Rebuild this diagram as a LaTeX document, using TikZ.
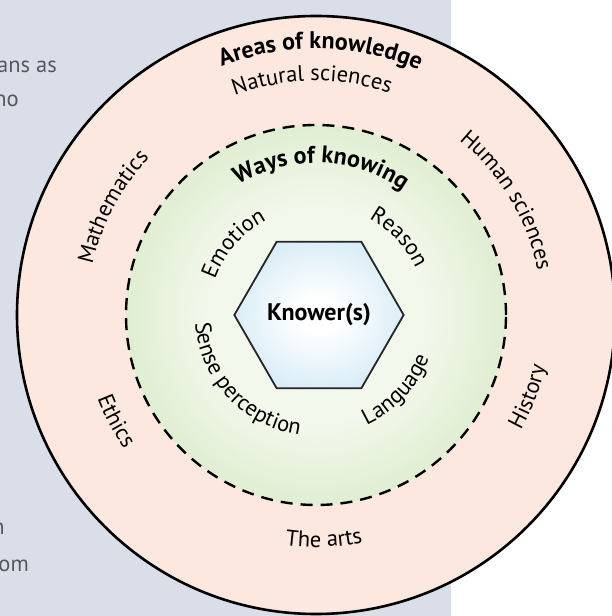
\documentclass[tikz,border=0pt]{standalone}
\usepackage{fontspec}
\setmainfont{PT Sans}
\usepackage{tikz}
\usetikzlibrary{shapes.geometric,decorations.text}
\definecolor{panel}{HTML}{D9DEE8}
\definecolor{bodygrey}{HTML}{55585E}
\definecolor{peachin}{HTML}{FCE8DF}
\definecolor{peachout}{HTML}{F8CDBA}
\definecolor{greenin}{HTML}{F3F8EC}
\definecolor{greenout}{HTML}{B4D796}
\definecolor{bluein}{HTML}{FFFFFF}
\definecolor{blueout}{HTML}{ABD6EE}
\pgfdeclareradialshading{peachring}{\pgfpoint{0bp}{0bp}}{color(0bp)=(peachin); color(31bp)=(peachin); color(50bp)=(peachout)}
\pgfdeclareradialshading{greendisc}{\pgfpoint{0bp}{0bp}}{color(0bp)=(greenin); color(14bp)=(greenin); color(50bp)=(greenout)}
\pgfdeclareradialshading{bluehex}{\pgfpoint{0bp}{0bp}}{color(0bp)=(bluein); color(6bp)=(bluein); color(50bp)=(blueout)}
\newcommand\labfont{\fontsize{22.5}{22.5}\selectfont}
\newcommand\headfont{\fontsize{24}{24}\selectfont\bfseries}

\begin{document}
\begin{tikzpicture}[x=1pt,y=1pt,
  arclab/.style={decorate,decoration={text along path,text align=center,text={#1}}},
  bodytxt/.style={font=\labfont,text=bodygrey,inner sep=0pt,anchor=base east},
  hexa/.style={regular polygon,regular polygon sides=6,minimum size=168pt,inner sep=0pt,
               draw=black!85,line width=1.8pt,shading=bluehex,font=\headfont}
]
\useasboundingbox (0,0) rectangle (611,616);
\fill[white] (0,0) rectangle (611,616);
\fill[panel] (0,0) rectangle (451,616);

% text of the page behind the figure
\node[bodytxt] (pa) at (57,543) {ans as};
\node[bodytxt] (pb) at (19,509) {no};
\node[bodytxt] (pc) at (5,81) {n};
\node[bodytxt] (pd) at (29,44) {om};

% rings
\coordinate (c) at (316,301);
\shadedraw[shading=peachring,line width=2.6pt] (c) circle[radius=299];
\shade[shading=greendisc] (c) circle[radius=190];
\draw[line width=2.4pt,dash pattern=on 12pt off 8pt] (c) circle[radius=190];
\node[hexa] (knower) at (319,301) {Knower(s)};

% areas of knowledge
\path[arclab={|\headfont|Areas of knowledge}] ([shift={(159:266)}]c) arc[start angle=159,end angle=19,radius=266];
\path[arclab={|\labfont|Natural sciences}] ([shift={(161:234)}]c) arc[start angle=161,end angle=21,radius=234];
\path[arclab={|\labfont|Mathematics}] ([shift={(222:229)}]c) arc[start angle=222,end angle=82,radius=229];
\path[arclab={|\labfont|Human sciences}] ([shift={(101:226)}]c) arc[start angle=101,end angle=-39,radius=226];
\path[arclab={|\labfont|The arts}] ([shift={(-158:232)}]c) arc[start angle=-158,end angle=-18,radius=232];
\path[arclab={|\labfont|Ethics}] ([shift={(-222:234)}]c) arc[start angle=-222,end angle=-82,radius=234];
\path[arclab={|\labfont|History}] ([shift={(-91:235)}]c) arc[start angle=-91,end angle=49,radius=235];

% ways of knowing
\path[arclab={|\headfont|Ways of knowing}] ([shift={(158:152)}]c) arc[start angle=158,end angle=18,radius=152];
\path[arclab={|\labfont|Emotion}] ([shift={(209:107)}]c) arc[start angle=209,end angle=69,radius=107];
\path[arclab={|\labfont|Reason}] ([shift={(113:110)}]c) arc[start angle=113,end angle=-27,radius=110];
\path[arclab={|\labfont|Sense perception}] ([shift={(-207:121)}]c) arc[start angle=-207,end angle=-67,radius=121];
\path[arclab={|\labfont|Language}] ([shift={(-113:121)}]c) arc[start angle=-113,end angle=27,radius=121];
\end{tikzpicture}
\end{document}
